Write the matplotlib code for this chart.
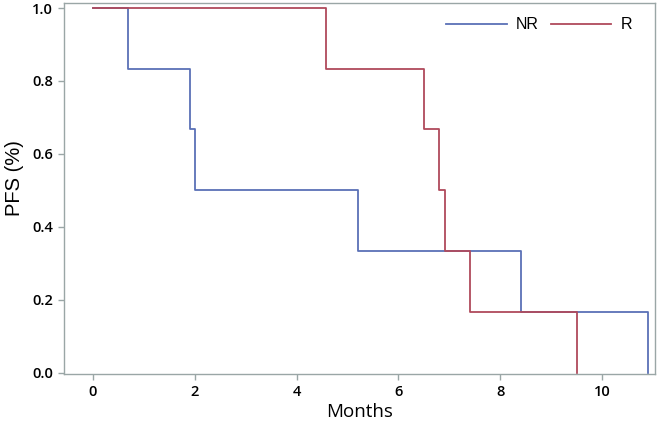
import numpy as np
import matplotlib
matplotlib.use("Agg")
import matplotlib.pyplot as plt

plt.rcParams['font.family'] = ['Open Sans', 'DejaVu Sans']

# Kaplan-Meier step data
nr_months = [0, 0.69, 1.90, 2.0, 5.21, 8.40, 10.91, 10.91]
nr_pfs = [1.0, 0.833, 0.667, 0.5, 0.333, 0.167, 0.167, 0.0]
r_months = [0, 4.58, 6.51, 6.80, 6.91, 7.40, 9.51, 9.51]
r_pfs = [1.0, 0.833, 0.667, 0.5, 0.333, 0.167, 0.167, 0.0]

x_ticks = [0, 2, 4, 6, 8, 10]
y_ticks = [0.0, 0.2, 0.4, 0.6, 0.8, 1.0]

blue = '#5a71b6'
red = '#b04a5c'
frame = '#9aa6a6'

fig = plt.figure(figsize=(6.57, 4.23), dpi=100)
ax = fig.add_axes([64/657, 49/423, 591/657, 371/423])

ax.step(nr_months, nr_pfs, where='post', color=blue, lw=1.3, label='NR')
ax.step(r_months, r_pfs, where='post', color=red, lw=1.3, label='R')

ax.set_xlim(-0.57, 11.04)
ax.set_ylim(-0.004, 1.014)
ax.set_xticks(x_ticks)
ax.set_yticks(y_ticks)
ax.set_yticklabels(['%.1f' % v for v in y_ticks])
ax.tick_params(colors=frame, labelcolor='black', labelsize=10.5, length=4, width=1, pad=4)
for lab in ax.get_xticklabels() + ax.get_yticklabels():
    lab.set_fontweight('semibold')
for s in ax.spines.values():
    s.set_color(frame)
    s.set_linewidth(1)

ax.set_xlabel('Months', fontsize=13.5, labelpad=3)
ax.set_ylabel('PFS (%)', fontsize=14.5, family='Liberation Sans', va='center')
ax.yaxis.set_label_coords(-0.083, 0.527)

leg = ax.legend(loc='upper right', ncol=2, frameon=False,
                prop={'family': 'Liberation Sans', 'size': 11.5},
                handlelength=3.8, columnspacing=0.75, handletextpad=0.55,
                bbox_to_anchor=(0.985, 1.0))

fig.savefig('out.png', dpi=100)
